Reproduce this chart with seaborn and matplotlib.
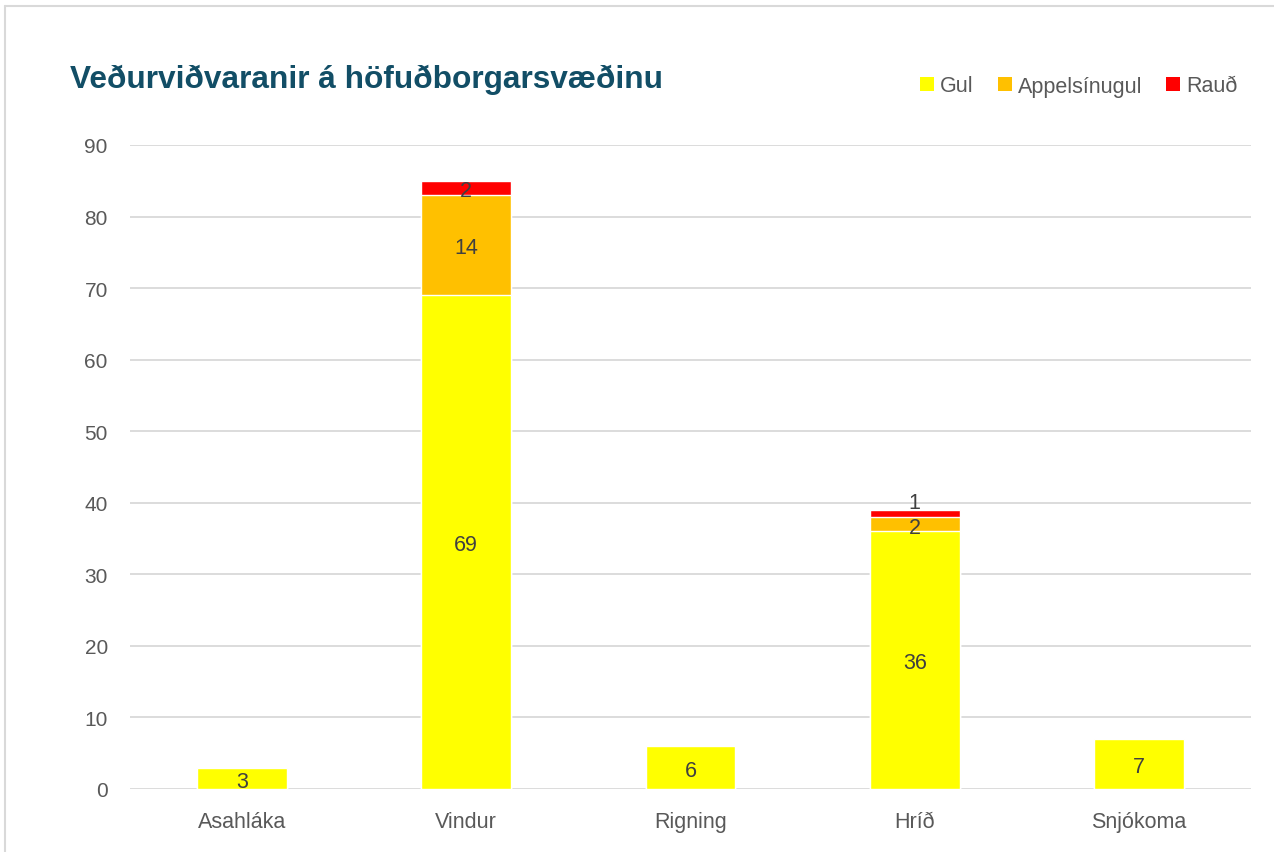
import matplotlib
matplotlib.use("Agg")
import matplotlib.pyplot as plt
import seaborn as sns
import numpy as np
from matplotlib.lines import Line2D
from matplotlib.patches import Patch

categories = ["Asahláka", "Vindur", "Rigning", "Hríð", "Snjókoma"]
gul = [3, 69, 6, 36, 7]
appelsinugul = [0, 14, 0, 2, 0]
raud = [0, 2, 0, 1, 0]
series_names = ["Gul", "Appelsínugul", "Rauð"]
colors = ["#FFFF00", "#FFC000", "#FF0000"]
yticks = [0, 10, 20, 30, 40, 50, 60, 70, 80, 90]

sns.set_theme(style="white")
plt.rcParams['font.family'] = ['Liberation Sans', 'DejaVu Sans']

fig = plt.figure(figsize=(12.74, 8.53), dpi=100)
ax = fig.add_axes([130/1274, 1-790/853, (1251-130)/1274, (790-146)/853])

series = [gul, appelsinugul, raud]
cums = np.cumsum(np.array(series), axis=0)
# Draw cumulative totals, top series first so lower series cover them
for i in range(len(series) - 1, -1, -1):
    sns.barplot(x=categories, y=cums[i], color=colors[i], width=0.4,
                saturation=1, ax=ax, zorder=2)

# Data labels centered in segments
bottom = np.zeros(len(categories))
for si, vals in enumerate(series):
    for ci, v in enumerate(vals):
        if v > 0:
            yc = bottom[ci] + v / 2
            dy = -2
            if si == 2 and ci == 3:
                dy = 8
            ax.annotate(str(v), (ci, yc), xytext=(0, dy), textcoords="offset points",
                        ha="center", va="center", fontsize=15.5, color="#404040", zorder=5)
    bottom = bottom + np.array(vals)

ax.set_ylim(0, 90)
ax.set_xlim(-0.5, len(categories) - 0.5)
ax.set_yticks(yticks)
ax.set_yticklabels([str(t) for t in yticks])
ax.yaxis.grid(True, color="#D9D9D9", linewidth=1.3, zorder=0)
ax.set_axisbelow(True)
for s in ax.spines.values():
    s.set_visible(False)
ax.tick_params(axis="y", length=0, pad=16, labelsize=15, labelcolor="#595959")
ax.tick_params(axis="x", length=0, pad=16, labelsize=15.5, labelcolor="#595959")
ax.set_xlabel("")
ax.set_ylabel("")

fig.text(70/1274, 1-80/853, "Veðurviðvaranir á höfuðborgarsvæðinu", fontsize=22.8,
         fontweight="bold", color="#124E66", ha="left", va="center")

handles = [Patch(facecolor=c, edgecolor="none") for c in colors]
fig.legend(handles, series_names, loc="center right", bbox_to_anchor=(1238/1274, 1-87/853),
           ncol=3, frameon=False, handlelength=0.65, handleheight=0.65,
           handletextpad=0.3, columnspacing=1.1, labelcolor="#595959",
           borderpad=0, borderaxespad=0,
           prop={'family': ['Liberation Sans', 'DejaVu Sans'], 'size': 15.5})

# Figure border (top and left visible)
fig.add_artist(Line2D([5/1274, 1.0], [1-7/853, 1-7/853], color="#D9D9D9", linewidth=1.5))
fig.add_artist(Line2D([5/1274, 5/1274], [0, 1-7/853], color="#D9D9D9", linewidth=1.5))

fig.savefig("out.png", dpi=100)
